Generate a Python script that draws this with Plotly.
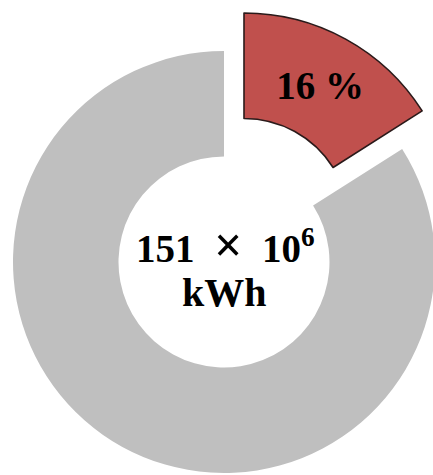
import plotly.graph_objects as go

# Share of total energy use
labels = ["Share", "Remainder"]
values = [16, 84]
total_value = 151
total_exp = 6
total_unit = "kWh"

RED = "#C0504D"
GREY = "#BFBFBF"
CLEAR = "rgba(0,0,0,0)"
FONT = "Liberation Serif, Times New Roman, serif"

W, H = 460, 475
R = 211          # outer radius in px
HOLE = 0.5
ring_c = (224, 262)   # centre of the ring
pull_c = (244, 224)   # centre of the pulled-out slice


def dom(cx, cy):
    return dict(x=[(cx - R) / W, (cx + R) / W],
                y=[(H - (cy + R)) / H, (H - (cy - R)) / H])


fig = go.Figure()

# ring: remaining share
fig.add_trace(go.Pie(
    labels=labels, values=values, hole=HOLE, sort=False,
    direction="clockwise", rotation=0,
    marker=dict(colors=[CLEAR, GREY], line=dict(width=0)),
    textinfo="none", hoverinfo="label+percent",
    domain=dom(*ring_c), showlegend=False,
))

# pulled-out highlighted slice
fig.add_trace(go.Pie(
    labels=labels, values=values, hole=HOLE, sort=False,
    direction="clockwise", rotation=0,
    marker=dict(colors=[RED, CLEAR], line=dict(color=["#2a1a1a", CLEAR], width=[1.6, 0])),
    texttemplate=[f"{values[0]} %", ""],
    textposition="inside", insidetextorientation="horizontal",
    textfont=dict(family=FONT, size=39, color="black", weight="bold"),
    hoverinfo="label+percent",
    domain=dom(*pull_c), showlegend=False,
))

times = '<span style="font-size:50px">×</span>'
fig.add_annotation(
    x=(ring_c[0] + 1) / W, y=(H - 245) / H, xref="paper", yref="paper",
    text=f"{total_value}\u00a0\u00a0{times}\u00a0\u00a0{10}<sup>{total_exp}</sup>",
    showarrow=False,
    font=dict(family=FONT, size=39, color="black", weight="bold"),
    xanchor="center", yanchor="middle",
)
fig.add_annotation(
    x=ring_c[0] / W, y=(H - 292) / H, xref="paper", yref="paper",
    text=total_unit, showarrow=False,
    font=dict(family=FONT, size=40, color="black", weight="bold"),
    xanchor="center", yanchor="middle",
)

fig.update_layout(
    width=W, height=H,
    margin=dict(l=0, r=0, t=0, b=0),
    paper_bgcolor="white", plot_bgcolor="white",
)

fig.write_html("out.html")
